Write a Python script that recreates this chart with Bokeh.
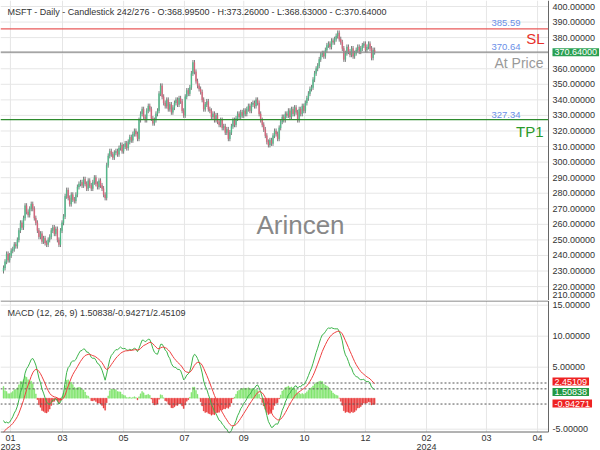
from bokeh.plotting import figure
from bokeh.layouts import column
from bokeh.models import Range1d, Label, ColumnDataSource
from bokeh.core.properties import value
from bokeh.embed import file_html
from bokeh.resources import INLINE

# ---------------- data ----------------
closes = [
    232, 236, 241, 237, 240, 243, 244, 247, 246, 250, 256, 261, 258, 264,
    272, 268, 266, 270, 273, 270, 264, 261, 256, 252, 254, 249, 251, 248, 247, 250,
    252, 256, 258, 254, 257, 250, 247, 256, 261, 265, 278, 282, 277, 273, 279, 276, 275,
    279, 284, 286, 287, 285, 289, 286, 283, 288, 285, 283, 287, 290, 286, 284, 288,
    285, 283, 279, 277, 298, 304, 307, 305, 303, 306,
    307, 305, 309, 311, 307, 310, 312, 309, 313, 316, 314, 318, 320, 318, 315,
    327, 331, 334, 329, 327, 333, 336, 334, 328, 325, 327, 331, 333,
    344, 349, 342, 338, 336, 340, 334, 337, 332, 335, 338, 340, 337, 341, 339,
    333, 330, 342, 346, 344, 348, 357, 364, 358, 352, 349, 347, 345, 340, 334,
    337, 339, 334, 333, 329, 331, 327, 330, 326, 324, 327, 322, 323, 319, 321, 315,
    319, 323, 327, 324, 328, 331, 329, 332, 330, 333, 331, 334, 336, 333, 337,
    338, 336, 340, 338, 331, 327, 324, 321, 317, 313, 311, 314,
    312, 317, 320, 318, 315, 322, 326, 329, 327, 331, 330, 333, 329, 334, 331, 335, 332,
    327, 334, 331, 336, 333, 338, 341, 344, 347, 348, 353, 357, 360, 362,
    366, 369, 370, 368, 372, 375, 376, 374, 378, 377, 379, 381, 383, 379, 377, 373,
    366, 370, 374, 371, 369, 373, 368, 370, 372, 374, 371, 373, 375,
    376, 372, 374, 376, 373, 367, 372, 370.64,
]
first_open = 230.0
wick = 1.6

# MACD state at the first bar (indicator carries earlier history)
macd_start = -3.6
signal_start = -5.5
ema_start_level = 246.0

tick_pos = [4.5, 38.3, 78.0, 117.5, 156.0, 195.5, 235.0, 274.7, 313.6, 346.8]
tick_labels = ["01\n2023", "03", "05", "07", "09", "10", "12", "02\n2024", "03", "04"]

price_ticks = list(range(220, 401, 10))
macd_ticks = [-5, 5, 10, 15]

sl_level = 385.59
tp_level = 327.34
last_price = 370.64
macd_last = 1.50838
signal_last = 2.45109
hist_last = -0.94271

header = "MSFT - Daily - Candlestick   242/276 - O:368.99500 - H:373.26000 - L:368.63000 - C:370.64000"
macd_header = "MACD (12, 26, 9)   1.50838/-0.94271/2.45109"

# ---------------- derived series ----------------
n = len(closes)
idx = list(range(n))
opens = [first_open] + closes[:-1]
highs = [max(o, c) + wick for o, c in zip(opens, closes)]
lows = [min(o, c) - wick for o, c in zip(opens, closes)]
up_col, dn_col = "#4cbf8a", "#e0607a"
colors = [up_col if c >= o else dn_col for o, c in zip(opens, closes)]

a12, a26, a9 = 2 / 13, 2 / 27, 2 / 10
e12 = ema_start_level + macd_start / 2
e26 = ema_start_level - macd_start / 2
sig = signal_start
macd, signal = [], []
for i, c in enumerate(closes):
    if i > 0:
        e12 += a12 * (c - e12)
        e26 += a26 * (c - e26)
    m = e12 - e26
    if i > 0:
        sig += a9 * (m - sig)
    macd.append(m)
    signal.append(sig)
hist = [m - s for m, s in zip(macd, signal)]
hcols = ["#7be468" if h >= 0 else "#e83030" for h in hist]

months = [t.split("\n")[0] for t in tick_labels]
years = [t.split("\n")[1] if "\n" in t else "" for t in tick_labels]

# ---------------- geometry helpers (pixels -> data) ----------------
PPB = 1.54   # px per bar
X0 = 3.0     # px of bar 0
def tx(px):
    return (px - X0) / PPB

PY1 = 1.556
TOPV = 400 + 6 / PY1
def ty(py):
    return TOPV - py / PY1

ZERO_PY = 397.7
PY2 = 6.2
def my(py):
    return (ZERO_PY - py) / PY2

FONT = "Liberation Sans"
GRID = "#e6e6e6"
AXC = "#666666"
XL, XR = tx(0), tx(548)
xr = Range1d(tx(0), tx(600))


def mkfig(h, yr):
    f = figure(width=600, height=h, x_range=xr, y_range=yr, output_backend="svg",
               toolbar_location=None, min_border=0, x_axis_location=None,
               y_axis_location=None)
    f.outline_line_color = None
    f.xgrid.visible = False
    f.ygrid.visible = False
    f.background_fill_color = "white"
    f.border_fill_color = "white"
    return f


def lab(fig, x, y, text, color, size, align="left", **kw):
    fig.add_layout(Label(x=x, y=y, text=text, text_color=color, text_font=FONT,
                         text_font_size=size, text_align=align, text_baseline="middle", **kw))


# ---------------- price panel ----------------
p1 = mkfig(300, Range1d(ty(300), ty(0)))
p1.segment(x0=tick_pos, y0=[ty(300)] * len(tick_pos), x1=tick_pos, y1=[ty(0)] * len(tick_pos),
           line_color=GRID, line_width=1)
p1.segment(x0=[XL] * len(price_ticks), y0=price_ticks, x1=[XR] * len(price_ticks), y1=price_ticks,
           line_color=GRID, line_width=1)

src = ColumnDataSource(dict(x=idx, o=opens, c=closes, h=highs, l=lows, col=colors))
p1.segment(x0="x", y0="h", x1="x", y1="l", source=src, line_color="#5a5a5a", line_width=0.8)
p1.vbar(x="x", top="o", bottom="c", width=0.55, source=src, fill_color="col", line_color="col",
        line_width=0.4)

for lvl, col in ((sl_level, "#e85a5a"), (last_price, "#8a8a8a"), (tp_level, "#2e8b2e")):
    p1.segment(x0=[XL], y0=[lvl], x1=[XR], y1=[lvl], line_color=col, line_width=1.3)

p1.segment(x0=[XR], y0=[ty(300)], x1=[XR], y1=[ty(0)], line_color=AXC, line_width=1)
p1.text(x=[tx(552)] * len(price_ticks), y=price_ticks, text=["%.5f" % v for v in price_ticks],
        text_font=value(FONT), text_font_size=value("9px"), text_color="#333333",
        text_align="left", text_baseline="middle")
lab(p1, tx(552), ty(294), "210.00000", "#333333", "9px")
lab(p1, tx(552), last_price, "%.5f" % last_price, "#ffffff", "9px",
    background_fill_color="#2aa052", padding=(2, 1))

lab(p1, tx(7), ty(11), header, "#333333", "9px")
lab(p1, tx(491), ty(22), "%.2f" % sl_level, "#6a8fe8", "9.5px")
lab(p1, tx(544), ty(38), "SL", "#e8302a", "15px", align="right")
lab(p1, tx(491), ty(46), "%.2f" % last_price, "#6a8fe8", "9.5px")
lab(p1, tx(543), ty(62), "At Price", "#999999", "14px", align="right")
lab(p1, tx(491), ty(114), "%.2f" % tp_level, "#6a8fe8", "9.5px")
lab(p1, tx(543), ty(131), "TP1", "#2a9a2a", "15px", align="right")
lab(p1, tx(300), ty(224), "Arincen", "#888888", "26px", align="center")

# ---------------- MACD panel ----------------
p2 = mkfig(150, Range1d(my(450), my(300)))
B, T = my(431.5), my(300.5)
p2.segment(x0=tick_pos, y0=[B] * len(tick_pos), x1=tick_pos, y1=[T] * len(tick_pos),
           line_color=GRID, line_width=1)
p2.segment(x0=[XL] * len(macd_ticks), y0=macd_ticks, x1=[XR] * len(macd_ticks), y1=macd_ticks,
           line_color=GRID, line_width=1)

msrc = ColumnDataSource(dict(x=idx, m=macd, s=signal, h=hist, col=hcols))
p2.vbar(x="x", top="h", bottom=0, width=0.6, source=msrc, fill_color="col", line_color="col",
        line_width=0.4)
for v in (signal_last, macd_last, hist_last):
    p2.segment(x0=[XL], y0=[v], x1=[XR], y1=[v], line_color="#555555", line_width=1,
               line_dash="2 2")
p2.line("x", "m", source=msrc, line_color="#3cb44b", line_width=1)
p2.line("x", "s", source=msrc, line_color="#ee4040", line_width=1)

p2.segment(x0=[XL, XL, XR], y0=[T, B, B], x1=[XR, XR, XR], y1=[T, B, T], line_color=AXC, line_width=1)
p2.text(x=[tx(552)] * len(macd_ticks), y=macd_ticks, text=["%.5f" % v for v in macd_ticks],
        text_font=value(FONT), text_font_size=value("9px"), text_color="#333333",
        text_align="left", text_baseline="middle")
p2.text(x=tick_pos, y=[my(437)] * len(tick_pos), text=months, text_font=value(FONT),
        text_font_size=value("9px"), text_color="#333333", text_align="center",
        text_baseline="middle")
p2.text(x=tick_pos, y=[my(446)] * len(tick_pos), text=years, text_font=value(FONT),
        text_font_size=value("9px"), text_color="#333333", text_align="center",
        text_baseline="middle")

lab(p2, tx(7), my(312), macd_header, "#333333", "9px")
# value boxes, stacked so they do not overlap (as in the reference)
for v, col, py in ((signal_last, "#ee2222", 381), (macd_last, "#229944", 391.5),
                   (hist_last, "#ee2222", 403)):
    lab(p2, tx(552), my(py), "%.5f" % v, "#ffffff", "9px", background_fill_color=col,
        padding=(2, 1))

layout = column(p1, p2, spacing=0)
open("out.html", "w").write(file_html(layout, INLINE))
